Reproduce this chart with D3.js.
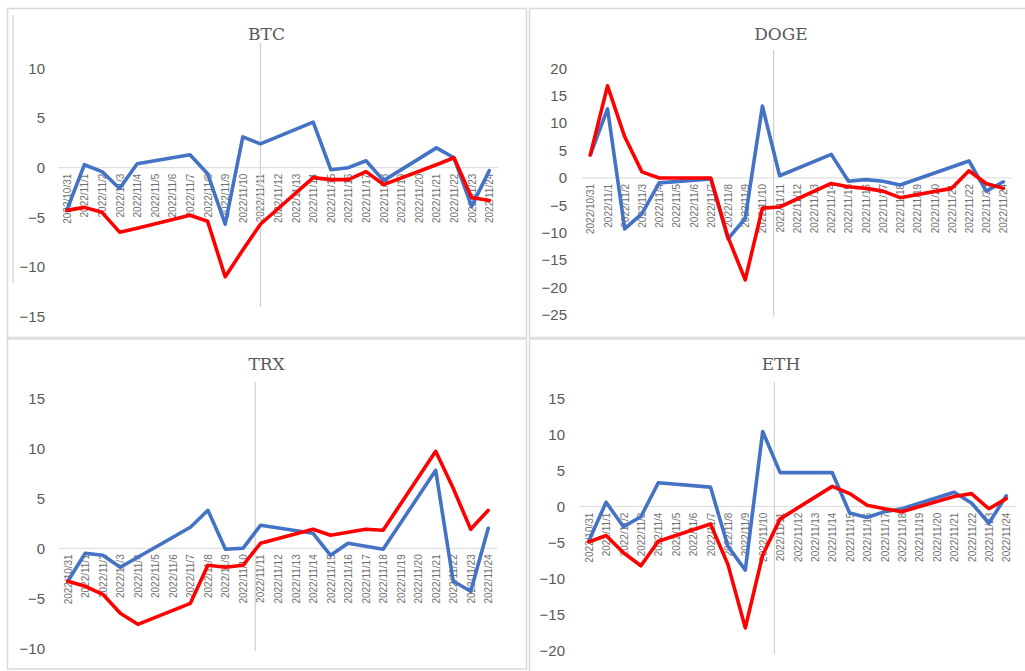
<!DOCTYPE html>
<html>
<head>
<meta charset="utf-8">
<script src="https://cdn.jsdelivr.net/npm/d3@7"></script>
<style>
  html, body { margin: 0; padding: 0; background: #fff; }
  svg { display: block; }
</style>
</head>
<body>
<svg id="chart" width="1025" height="671"></svg>
<script>
// ---------- DATA ----------
const dates = ["2022/10/31","2022/11/1","2022/11/2","2022/11/3","2022/11/4","2022/11/5","2022/11/6",
  "2022/11/7","2022/11/8","2022/11/9","2022/11/10","2022/11/11","2022/11/12","2022/11/13","2022/11/14",
  "2022/11/15","2022/11/16","2022/11/17","2022/11/18","2022/11/19","2022/11/20","2022/11/21",
  "2022/11/22","2022/11/23","2022/11/24"];

const titles = ["BTC", "DOGE", "TRX", "ETH"];

const btcBlue = [-4.3, 0.3, -0.4, -2.1, 0.4, null, null, 1.3, -0.6, -5.7, 3.1, 2.4, null, null, 4.6, -0.2, 0.0, 0.7, -1.3, null, null, 2.0, 1.0, -3.9, -0.3];
const btcRed  = [-4.3, -4.0, -4.5, -6.5, -6.1, null, null, -4.8, -5.4, -11.0, -8.3, -5.7, null, null, -1.0, -1.2, -1.2, -0.4, -1.7, null, null, 0.3, 1.0, -3.0, -3.3];

const dogeBlue = [4.2, 12.6, -9.3, -6.5, -0.9, null, null, -0.2, -11.1, -7.4, 13.1, 0.4, null, null, 4.3, -0.6, -0.3, -0.6, -1.3, null, null, 2.0, 3.1, -2.4, -0.7];
const dogeRed  = [4.2, 16.8, 7.5, 1.1, 0.0, null, null, 0.0, -10.8, -18.6, -5.5, -5.3, null, null, -1.0, -1.6, -1.9, -2.4, -3.6, null, null, -1.9, 1.3, -1.0, -1.9];

const trxBlue = [-3.3, -0.5, -0.7, -1.9, -0.9, null, null, 2.1, 3.8, -0.1, 0.0, 2.3, null, null, 1.5, -0.7, 0.5, 0.2, -0.1, null, null, 7.8, -3.3, -4.3, 2.0];
const trxRed  = [-3.3, -3.8, -4.6, -6.5, -7.6, null, null, -5.5, -1.7, -1.9, -1.7, 0.5, null, null, 1.9, 1.3, 1.6, 1.9, 1.8, null, null, 9.7, 6.0, 1.9, 3.8];

const ethBlue = [-4.8, 0.6, -2.8, -1.4, 3.3, null, null, 2.7, -5.5, -8.8, 10.4, 4.7, null, null, 4.7, -0.9, -1.5, -0.7, -0.3, null, null, 2.0, 0.5, -2.3, 1.5];
const ethRed  = [-4.9, -4.0, -6.4, -8.2, -4.8, null, null, -2.4, -8.0, -16.8, -6.7, -1.7, null, null, 2.8, 1.8, 0.2, -0.3, -0.7, null, null, 1.4, 1.8, -0.3, 1.1];

const btcTicks  = [10, 5, 0, -5, -10, -15];
const dogeTicks = [20, 15, 10, 5, 0, -5, -10, -15, -20, -25];
const trxTicks  = [15, 10, 5, 0, -5, -10];
const ethTicks  = [15, 10, 5, 0, -5, -10, -15, -20];

// position of the vertical marker, in category units from the first date
const eventPos = [11, 10.65, 10.7, 10.67];

// ---------- LAYOUT ----------
const panels = [
  { title: titles[0], blue: btcBlue,  red: btcRed,  ticks: btcTicks,  yDom: [-15, 10], box: [7, 8, 519, 329],
    plotX: [58, 498],   plotY: [316.5, 68.5], labelRight: 45,  titleY: 40,  vline: [43, 307],  ev: eventPos[0] },
  { title: titles[1], blue: dogeBlue, red: dogeRed, ticks: dogeTicks, yDom: [-25, 20], box: [529, 8, 520, 329],
    plotX: [581.7, 1012], plotY: [315, 68.3], labelRight: 567, titleY: 40,  vline: [50, 317],  ev: eventPos[1] },
  { title: titles[2], blue: trxBlue,  red: trxRed,  ticks: trxTicks,  yDom: [-10, 15], box: [7, 338.5, 519, 330],
    plotX: [59, 497],   plotY: [648.3, 398.3], labelRight: 45,  titleY: 370, vline: [382, 651], ev: eventPos[2] },
  { title: titles[3], blue: ethBlue,  red: ethRed,  ticks: ethTicks,  yDom: [-20, 15], box: [529, 338.5, 520, 340],
    plotX: [580, 1015], plotY: [651, 398.3], labelRight: 565, titleY: 370, vline: [382, 654], ev: eventPos[3] }
];

const svg = d3.select("#chart");
const grey = "#595959";

panels.forEach((p, pi) => {
  const g = svg.append("g");
  // panel border
  g.append("rect")
    .attr("x", p.box[0] + 0.5).attr("y", p.box[1] + 0.5)
    .attr("width", p.box[2]).attr("height", p.box[3])
    .attr("fill", "none").attr("stroke", "#d9d9d9").attr("stroke-width", 1.5);

  const x = d3.scalePoint().domain(dates).range(p.plotX).padding(0.5);
  const y = d3.scaleLinear().domain(p.yDom).range(p.plotY);
  const step = x.step();

  // title
  g.append("text")
    .attr("x", p.box[0] + p.box[2] / 2 + (pi % 2 === 1 ? -8 : 0))
    .attr("y", p.titleY)
    .attr("text-anchor", "middle")
    .attr("font-family", "'DejaVu Serif', serif")
    .attr("font-size", 17)
    .attr("fill", grey)
    .text(p.title);

  // y axis (labels only)
  const yAxis = d3.axisLeft(y).tickValues(p.ticks).tickSize(0).tickPadding(0);
  const ya = g.append("g").attr("transform", `translate(${p.labelRight},0)`).call(yAxis);
  ya.select(".domain").remove();
  ya.selectAll("text")
    .attr("font-family", "'Liberation Sans', Arial, sans-serif")
    .attr("font-size", 15)
    .attr("fill", grey);

  // x axis category labels (rotated), under the zero line
  const y0 = y(0);
  const xAxis = d3.axisBottom(x).tickSize(0).tickPadding(0);
  const xa = g.append("g").attr("transform", `translate(0,${y0})`).call(xAxis);
  xa.select(".domain").remove();
  xa.selectAll("text")
    .attr("font-family", "'Liberation Sans', Arial, sans-serif")
    .attr("font-size", 10)
    .attr("fill", "#6f6f6f")
    .attr("text-anchor", "end")
    .attr("transform", "rotate(-90)")
    .attr("x", -6).attr("y", 0).attr("dy", "0.35em");

  // zero line
  g.append("line")
    .attr("x1", p.plotX[0]).attr("x2", p.plotX[1])
    .attr("y1", y0).attr("y2", y0)
    .attr("stroke", "#d9d9d9").attr("stroke-width", 1);

  // vertical event marker
  const evX = x(dates[0]) + p.ev * step;
  g.append("line")
    .attr("x1", evX).attr("x2", evX)
    .attr("y1", p.vline[0]).attr("y2", p.vline[1])
    .attr("stroke", "#d0d0d0").attr("stroke-width", 1.2);

  // series
  const line = d3.line()
    .x(d => x(d.date))
    .y(d => y(d.v));
  const toPts = arr => arr.map((v, i) => ({ date: dates[i], v })).filter(d => d.v !== null);

  g.append("path").datum(toPts(p.blue))
    .attr("d", line).attr("fill", "none")
    .attr("stroke", "#4472C4").attr("stroke-width", 3.6)
    .attr("stroke-linejoin", "round").attr("stroke-linecap", "round");
  g.append("path").datum(toPts(p.red))
    .attr("d", line).attr("fill", "none")
    .attr("stroke", "#FF0000").attr("stroke-width", 3.6)
    .attr("stroke-linejoin", "round").attr("stroke-linecap", "round");
});

// faint inner edge on the first panel
svg.append("line")
  .attr("x1", 13).attr("x2", 13).attr("y1", 15).attr("y2", 283)
  .attr("stroke", "#e3e3e3").attr("stroke-width", 2);
</script>
</body>
</html>
